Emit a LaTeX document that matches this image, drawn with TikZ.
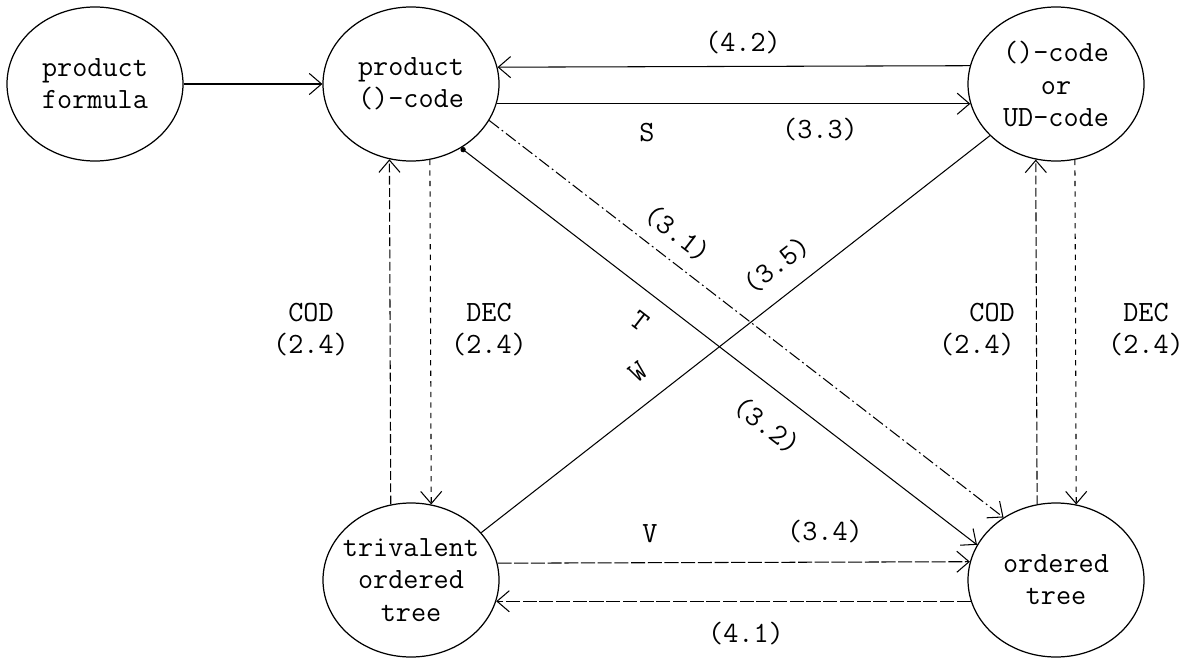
\documentclass[tikz,border=0pt]{standalone}
\usepackage{fontspec}
\usetikzlibrary{shapes.geometric,arrows.meta}
\begin{document}
\begin{tikzpicture}[font=\ttfamily\fontsize{16.7pt}{18.3pt}\selectfont,
  box/.style={ellipse,draw,black,line width=0.7pt,minimum width=3.52cm,minimum height=3.08cm,inner sep=0pt,align=center},
  arr/.style={black,line width=0.6pt,-{Straight Barb[length=7pt,width=12pt]}},
  lab/.style={black,align=center}]
\useasboundingbox (0,0) rectangle (24,13.18);
\node[box] (pf) at (1.9,11.5){product\\formula};
\node[box] (pc) at (8.22,11.5){product\\()-code};
\node[box] (ud) at (21.12,11.5){()-code\\or\\UD-code};
\node[box,inner xsep=-4pt] (tt) at (8.22,1.58){trivalent\\ordered\\tree};
\node[box] (ot) at (21.12,1.58){ordered\\tree};
\draw[arr] (pf) -- (pc);
\draw[arr] (ud.168.8) -- (pc.11.2);
\draw[arr] (pc.-13.2) -- (ud.193.2);
\draw[arr,dash pattern=on 5pt off 2pt] (tt.105.7) -- (pc.254.3);
\draw[arr,dash pattern=on 3pt off 3pt] (pc.284.2) -- (tt.75.8);
\draw[arr,dash pattern=on 5pt off 2pt] (ot.104.9) -- (ud.255.1);
\draw[arr,dash pattern=on 3pt off 3pt] (ud.284.2) -- (ot.75.8);
\draw[arr,dash pattern=on 7pt off 2pt on 1pt off 2pt] (pc.-25) -- (ot.130);
\draw[arr,{Circle[length=3pt]}-{Straight Barb[length=7pt,width=12pt]}] (pc.-52.3) -- (ot.156.7);
\draw[black,line width=0.6pt] (tt.34.6) -- (ud.218.3);
\draw[arr,dash pattern=on 8pt off 1.5pt] (tt.11.9) -- (ot.168.1);
\draw[arr,dash pattern=on 8pt off 1.5pt] (ot.194) -- (tt.-14);
\node[lab] (l42) at (14.86,12.32){(4.2)};
\node[lab] (ls) at (12.94,10.52){S};
\node[lab] (l33) at (16.4,10.58){(3.3)};
\node[lab] (lcodl) at (6.22,6.59){COD\\(2.4)};
\node[lab] (ldecl) at (9.78,6.59){DEC\\(2.4)};
\node[lab,align=right,anchor=east] (lcodr) at (20.42,6.59){COD\\(2.4)};
\node[lab] (ldecr) at (22.92,6.59){DEC\\(2.4)};
\node[lab,rotate=-37.7] (l31) at (13.55,8.5){(3.1)};
\node[lab,rotate=-37.7] (lt) at (12.8,6.76){T};
\node[lab,rotate=-37.7] (l32) at (15.34,4.66){(3.2)};
\node[lab,rotate=37.8] (lw) at (12.76,5.74){W};
\node[lab,rotate=37.8] (l35) at (15.54,7.88){(3.5)};
\node[lab] (lv) at (13,2.5){V};
\node[lab] (l34) at (16.5,2.54){(3.4)};
\node[lab] (l41) at (14.92,0.5){(4.1)};
\end{tikzpicture}
\end{document}
